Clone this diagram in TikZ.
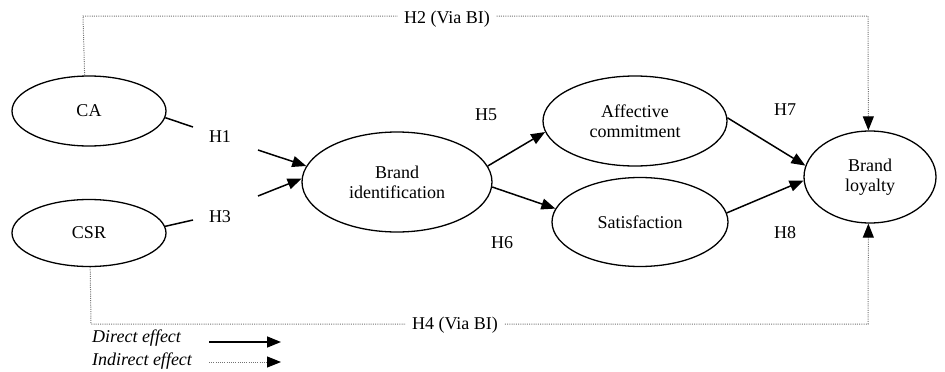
\documentclass[tikz,border=0pt]{standalone}
\usepackage{fontspec}
\setmainfont{Liberation Serif}
\usetikzlibrary{shapes.geometric,arrows.meta}
\begin{document}
\begin{tikzpicture}[x=1pt,y=-1pt,
  every node/.style={font=\fontsize{18}{20}\selectfont},
  latent/.style={draw,ellipse,line width=1.3pt,inner sep=0pt,align=center},
  direct/.style={line width=1.5pt,-{Triangle[length=14pt,width=11pt]}},
  plain/.style={line width=1.5pt},
  indirect/.style={line width=1pt,dash pattern=on 1pt off 1.2pt,black!55,-{Triangle[length=14pt,width=11pt,black]}},
  hlab/.style={inner sep=1pt},
  leg/.style={font=\fontsize{18}{20}\selectfont\itshape,anchor=west,inner sep=0pt}]
\useasboundingbox (0,0) rectangle (945,372);
% nodes
\node[latent,minimum width=154pt,minimum height=70pt] (CA) at (89,111) {CA};
\node[latent,minimum width=154pt,minimum height=67pt] (CSR) at (89,233) {CSR};
\node[latent,minimum width=190pt,minimum height=100pt] (BI) at (397,182) {Brand\\identification};
\node[latent,minimum width=184pt,minimum height=90pt] (AC) at (635,121) {Affective\\commitment};
\node[latent,minimum width=176pt,minimum height=89pt] (SAT) at (640,222) {Satisfaction};
\node[latent,minimum width=132pt,minimum height=92pt] (BL) at (870,177) {Brand\\loyalty};
% labels
\node[hlab] (H1) at (220,137) {H1};
\node[hlab] (H3) at (220,217) {H3};
\node[hlab] (H5) at (486,115) {H5};
\node[hlab] (H6) at (502,243) {H6};
\node[hlab] (H7) at (785,110) {H7};
\node[hlab] (H8) at (785,233) {H8};
% free ends
\coordinate (a1) at (193,127);
\coordinate (a3) at (193,220);
\coordinate (b1) at (258,150);
\coordinate (b3) at (258,196);
\coordinate (t1) at (83,16);
\coordinate (t2) at (868,16);
\coordinate (u1) at (91,324);
\coordinate (u2) at (868,324);
% connectors
\draw[plain] (CA.-5) -- (a1);
\draw[plain] (CSR.5) -- (a3);
\draw[direct] (b1) -- (BI.170);
\draw[direct] (b3) -- (BI.178);
\draw[direct] (BI.10) -- (AC.187);
\draw[direct] (BI.-3) -- (SAT.171);
\draw[direct] (AC.2) -- (BL.170);
\draw[direct] (SAT.6) -- (BL.183);
\draw[indirect] (CA.97) -- (t1) -- (t2) -- (BL.92);
\draw[indirect] (CSR.-88) -- (u1) -- (u2) -- (BL.-92);
\node[hlab,fill=white,inner xsep=6pt] (H2) at (447,19) {H2 (Via BI)};
\node[hlab,fill=white,inner xsep=6pt] (H4) at (455,325) {H4 (Via BI)};
% legend
\node[leg] (ld) at (92,338) {Direct effect};
\node[leg] (li) at (92,361) {Indirect effect};
\coordinate (ld1) at (209,342);
\coordinate (ld2) at (281,342);
\coordinate (li1) at (209,362);
\coordinate (li2) at (281,362);
\draw[direct] (ld1) -- (ld2);
\draw[indirect] (li1) -- (li2);
\end{tikzpicture}
\end{document}
